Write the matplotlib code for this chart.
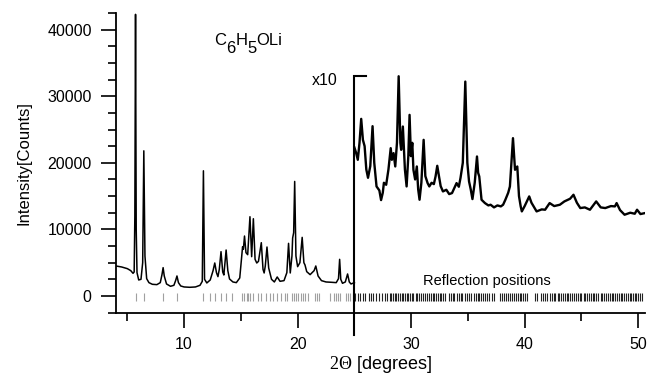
import matplotlib
matplotlib.use("Agg")
import matplotlib.pyplot as plt
from matplotlib.ticker import MultipleLocator

plt.rcParams['font.family'] = ['Liberation Sans', 'DejaVu Sans']
plt.rcParams['mathtext.fontset'] = 'custom'
plt.rcParams['mathtext.rm'] = 'Liberation Serif'
plt.rcParams['mathtext.sf'] = 'Liberation Sans'
plt.rcParams['mathtext.it'] = 'Liberation Sans:italic'

# ---- data ----
# measured pattern, 2theta < 25 deg (counts)
low_x = [4.0, 4.5, 5.0, 5.3, 5.5, 5.6, 5.66, 5.72, 5.78, 5.85, 6.0, 6.2, 6.35, 6.45, 6.55,
         6.7, 6.9, 7.2, 7.6, 7.9, 8.05, 8.15, 8.25, 8.45, 8.8, 9.1, 9.25, 9.37, 9.5, 9.7,
         10.0, 10.5, 11.0, 11.4, 11.6, 11.7, 11.8, 12.0, 12.3, 12.55, 12.7, 12.85, 12.98,
         13.1, 13.25, 13.4, 13.5, 13.6, 13.7, 13.85, 14.0, 14.3, 14.6, 14.9, 15.05, 15.15,
         15.22, 15.32, 15.45, 15.6, 15.8, 15.95, 16.1, 16.25, 16.4, 16.55, 16.8, 16.95,
         17.05, 17.15, 17.3, 17.45, 17.7, 17.95, 18.2, 18.45, 18.8, 19.05, 19.2, 19.35,
         19.5, 19.56, 19.65, 19.74, 19.85, 20.0, 20.2, 20.4, 20.55, 20.65, 20.8, 21.1,
         21.45, 21.6, 21.8, 22.1, 22.5, 23.0, 23.4, 23.6, 23.7, 23.8, 23.95, 24.2, 24.4,
         24.55, 24.7, 25.0]
low_y = [4500, 4350, 4100, 3800, 3400, 3600, 12000, 42300, 10000, 3500, 2400, 2500, 5000, 21800, 6000,
         2600, 2000, 1750, 1700, 2000, 3200, 4250, 3000, 1800, 1450, 1600, 2300, 3000, 2000, 1500,
         1350, 1300, 1350, 1600, 2200, 18800, 2500, 1950, 2400, 3800, 4950, 3500, 2900,
         4000, 6650, 3600, 3150, 5000, 6900, 3800, 2550, 2100, 2000, 2700, 5500, 7400,
         7000, 9000, 6500, 6200, 11900, 5900, 11600, 5500, 4950, 5200, 8000, 4000,
         3450, 4500, 7350, 4200, 2500, 2100, 2850, 2200, 2300, 3500, 7900, 3450,
         6000, 8700, 9500, 17200, 6000, 4400, 5000, 8800, 5000, 4650, 3650, 3200,
         3800, 4500, 3000, 2300, 2100, 2050, 2000, 2600, 5500, 2500, 1900, 2100, 3300,
         2100, 1800, 2000]

# measured pattern, 2theta >= 25 deg, shown magnified x10 (displayed values)
high_x = [25.0, 25.15, 25.3, 25.45, 25.6, 25.75, 25.9, 26.05, 26.2, 26.4, 26.6, 26.75, 26.95,
          27.2, 27.35, 27.5, 27.6, 27.8, 28.0, 28.2, 28.3, 28.45, 28.6, 28.75, 28.9, 29.05,
          29.12, 29.27, 29.45, 29.6, 29.75, 29.86, 29.98, 30.1, 30.2, 30.35, 30.5, 30.62,
          30.74, 30.9, 31.1, 31.25, 31.45, 31.6, 31.8, 32.0, 32.15, 32.3, 32.45, 32.6, 32.8,
          33.1, 33.35, 33.6, 33.8, 34.0, 34.2, 34.35, 34.55, 34.77, 34.95, 35.1, 35.25, 35.4,
          35.6, 35.8, 35.9, 36.0, 36.2, 36.5, 36.8, 37.0, 37.3, 37.6, 37.9, 38.1, 38.3,
          38.55, 38.7, 38.97, 39.15, 39.35, 39.5, 39.65, 39.75, 40.0, 40.4, 40.6, 41.05,
          41.5, 41.8, 42.2, 42.6, 43.1, 43.5, 44.0, 44.3, 44.6, 44.9, 45.3, 45.75, 46.3,
          46.7, 47.1, 47.6, 47.95, 48.1, 48.4, 48.8, 49.3, 49.7, 49.9, 50.2, 50.6]
high_y = [22300, 21500, 20450, 23000, 26600, 23450, 22500, 19000, 17750, 19500, 25500, 20000, 16450,
          15850, 14400, 15500, 17000, 16700, 19000, 22200, 20450, 21450, 19450, 23000, 33000, 23000,
          21950, 25450, 19000, 16450, 21000, 27200, 21000, 23000, 18950, 17500, 19450, 16000,
          14450, 17000, 23450, 18000, 16950, 16450, 17000, 16800, 17950, 19550, 18000, 16500, 15700,
          15950, 15300, 15450, 16200, 16950, 16400, 17750, 20000, 32200, 20000, 17200, 16000, 14550,
          17000, 20950, 18500, 17950, 14450, 13950, 13600, 13700, 13300, 13600, 13450, 13700, 14450,
          15500, 16450, 23700, 18950, 19450, 15000, 13450, 12700, 13500, 14950, 14000, 12700,
          13000, 12950, 13950, 13500, 13700, 14200, 14600, 15200, 14000, 13200, 13300, 12950, 14200,
          13300, 13200, 13500, 13450, 13950, 12900, 12200, 12500, 12350, 12950, 12300, 12450]

# calculated reflection positions (deg 2theta)
refl_low = [5.72, 6.45, 8.15, 9.37, 11.7, 12.25, 12.7, 13.25, 13.7, 14.25, 15.1, 15.3, 15.5,
            15.65, 15.8, 16.1, 16.5, 16.8, 17.2, 17.6, 17.85, 18.2, 18.5, 18.9, 19.1, 19.49,
            19.69, 19.87, 20.07, 20.28, 20.46, 20.66, 20.87, 21.54, 21.69, 21.92, 22.86, 23.16,
            23.4, 23.6, 23.74, 24.27, 24.48, 24.63, 24.86]
refl_high = [25.07, 25.3, 25.5, 25.75, 25.9, 26.3, 26.5, 26.65, 26.9, 27.2, 27.45, 27.7, 27.9,
             28.1, 28.25, 28.4, 28.55, 28.7, 28.85, 29.0, 29.15, 29.3, 29.45, 29.6, 29.75, 29.9,
             30.05, 30.2, 30.4, 30.55, 30.7, 30.85, 31.0, 31.2, 31.4, 31.55, 31.75, 31.9, 32.05,
             32.2, 32.35, 32.5, 32.65, 32.8, 33.0, 33.3, 33.5, 33.65, 33.8, 34.0, 34.2, 34.35,
             34.5, 34.75, 34.9, 35.1, 35.3, 35.5, 35.7, 35.85, 36.0, 36.15, 36.3, 36.5, 36.7,
             36.9, 37.1, 37.3, 37.8, 38.0, 38.2, 38.35, 38.5, 38.7, 38.9, 39.05, 39.25, 39.4,
             39.55, 39.7, 39.85, 40.05, 40.2, 40.9, 41.1, 41.4, 41.6, 41.8, 42.0, 42.2, 42.4,
             42.55, 42.7, 42.9, 43.05, 43.2, 43.4, 43.55, 43.7, 43.85, 44.0, 44.2, 44.35, 44.5,
             44.7, 44.85, 45.0, 45.2, 45.35, 45.5, 45.65, 45.8, 46.0, 46.15, 46.3, 46.5, 46.7,
             46.85, 47.0, 47.15, 47.3, 47.5, 47.65, 47.8, 47.95, 48.1, 48.3, 48.45, 48.6, 48.75,
             48.9, 49.1, 49.25, 49.4, 49.55, 49.7, 49.85, 50.0, 50.15, 50.3]

x_ticks = [10, 20, 30, 40, 50]
y_ticks = [0, 10000, 20000, 30000, 40000]
break_x = 25.0
bracket_top = 33100
formula_parts = [('C', False), ('6', True), ('H', False), ('5', True), ('OLi', False)]

# ---- figure ----
W, H = 647, 374
fig = plt.figure(figsize=(W / 100, H / 100), dpi=100)
ax = fig.add_axes([0.1793, 0.1642, 0.8176, 0.801])

ax.plot(low_x, low_y, color='black', lw=1.1)
ax.plot(high_x, high_y, color='black', lw=1.7, solid_joinstyle='round')

ax.vlines(refl_low, -700, 500, color='#a0a0a0', lw=0.8)
ax.vlines(refl_high, -700, 500, color='#222222', lw=0.8)

# x10 bracket
ax.plot([break_x, break_x, 26.0], [-5800, bracket_top, bracket_top], color='black', lw=1.5,
        clip_on=False, solid_joinstyle='miter')

ax.set_xlim(4.0, 50.6)
ax.set_ylim(-2500, 42500)
ax.set_xticks(x_ticks)
ax.set_yticks(y_ticks)
ax.xaxis.set_minor_locator(MultipleLocator(5))
ax.yaxis.set_minor_locator(MultipleLocator(2500))
ax.tick_params(which='major', direction='out', length=11, width=1.2, labelsize=11.5, pad=6.5)
ax.tick_params(which='minor', direction='out', length=5.5, width=1.2)
for s in ['top', 'right']:
    ax.spines[s].set_visible(False)
for s in ['left', 'bottom']:
    ax.spines[s].set_linewidth(1.3)

ax.set_ylabel('Intensity[Counts]', fontsize=12, labelpad=11)
ax.set_xlabel(r'$\mathrm{2\Theta}$ [degrees]', fontsize=13, labelpad=1.5)

# chemical formula with full-size lowered digits
renderer = fig.canvas.get_renderer()
px, py = ax.transData.transform((12.64, 37750))
for txt, low in formula_parts:
    t = fig.text(px / W, (py - (8 if low else 0)) / H, txt, fontsize=12, ha='left', va='baseline')
    px += t.get_window_extent(renderer).width

ax.text(22.4, 32300, 'x10', fontsize=11.5, ha='center', va='center')
ax.text(36.7, 2300, 'Reflection positions', fontsize=10.5, ha='center', va='center')

fig.savefig('out.png', dpi=100)
